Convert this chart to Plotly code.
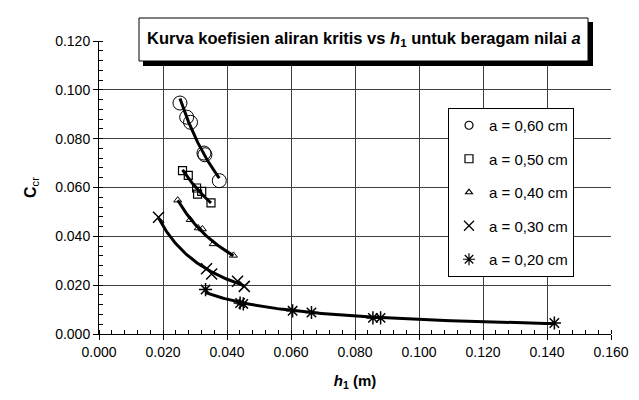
import numpy as np
import plotly.graph_objects as go

# ---- data ----
h_060 = [0.0253, 0.0274, 0.0286, 0.0328, 0.0331, 0.0376]
c_060 = [0.0946, 0.0888, 0.0867, 0.0741, 0.0734, 0.0628]

h_050 = [0.0261, 0.0279, 0.0305, 0.0321, 0.0308, 0.0350]
c_050 = [0.0669, 0.0650, 0.0598, 0.0584, 0.0573, 0.0537]

h_040 = [0.0246, 0.0285, 0.0310, 0.0323, 0.0357, 0.0420]
c_040 = [0.0548, 0.0468, 0.0434, 0.0430, 0.0369, 0.0322]

h_030 = [0.0186, 0.0336, 0.0352, 0.0433, 0.0454]
c_030 = [0.0478, 0.0267, 0.0246, 0.0216, 0.0195]

h_020 = [0.0333, 0.0441, 0.0451, 0.0605, 0.0664, 0.0856, 0.0880, 0.1423]
c_020 = [0.0182, 0.0127, 0.0123, 0.0095, 0.0088, 0.0066, 0.0066, 0.0045]

labels = ["a = 0,60 cm", "a = 0,50 cm", "a = 0,40 cm", "a = 0,30 cm", "a = 0,20 cm"]
x_ticks = [0.000, 0.020, 0.040, 0.060, 0.080, 0.100, 0.120, 0.140, 0.160]
y_ticks = [0.000, 0.020, 0.040, 0.060, 0.080, 0.100, 0.120]

# (x, y, label, symbol, plot size, legend size, line width)
series = [
    (h_060, c_060, labels[0], "circle-open", 14, 8, 1.0),
    (h_050, c_050, labels[1], "square-open", 8, 8, 1.2),
    (h_040, c_040, labels[2], "triangle-up-open", 7, 6, 1.0),
    (h_030, c_030, labels[3], "x-thin-open", 11, 10, 1.5),
    (h_020, c_020, labels[4], "asterisk-open", 11, 10, 1.5),
]

FONT = "Liberation Sans, Arial, sans-serif"
fig = go.Figure()

# power-law trendlines (Excel style) fitted to each series
for hs, cs, name, sym, s, ls, lw in series:
    h = np.array(hs)
    c = np.array(cs)
    b, a = np.polyfit(np.log(h), np.log(c), 1)
    hx = np.geomspace(h.min(), h.max(), 80)
    fig.add_trace(go.Scatter(x=hx, y=np.exp(a) * hx ** b, mode="lines",
                             line=dict(color="black", width=3),
                             showlegend=False, hoverinfo="skip"))

for i, (hs, cs, name, sym, s, ls, lw) in enumerate(series):
    fig.add_trace(go.Scatter(x=hs, y=cs, mode="markers", name=name, showlegend=False,
                             marker=dict(color="black", symbol=sym, size=s,
                                         line=dict(width=lw, color="black"))))
    # legend entry with the small Excel-style legend marker
    fig.add_trace(go.Scatter(x=[None], y=[None], mode="markers", name=name,
                             legendgroup=f"g{i}",
                             marker=dict(color="black", symbol=sym, size=ls,
                                         line=dict(width=1.2, color="black"))))

L, R, T, B = 91, 36, 33, 74
W, H = 639, 400
pw, ph = W - L - R, H - T - B

def px(x):
    return (x - L) / pw

def py(y):
    return (H - B - y) / ph

# title box with shadow
fig.add_shape(type="rect", xref="paper", yref="paper",
              x0=px(135), x1=px(585), y0=py(58), y1=py(14),
              fillcolor="black", line=dict(width=0), layer="above")
fig.add_shape(type="rect", xref="paper", yref="paper",
              x0=px(131), x1=px(580), y0=py(53), y1=py(10),
              fillcolor="white", line=dict(width=1, color="black"), layer="above")
fig.add_annotation(xref="paper", yref="paper", x=px(356), y=py(31),
                   text="<b>Kurva koefisien aliran kritis vs <i>h</i><sub>1</sub> untuk beragam nilai <i>a</i></b>",
                   showarrow=False, font=dict(family=FONT, size=16.5, color="black"),
                   xanchor="center", yanchor="middle")

fig.update_layout(
    width=W, height=H,
    margin=dict(l=L, r=R, t=T, b=B),
    paper_bgcolor="white", plot_bgcolor="white",
    font=dict(family=FONT, color="black"),
    showlegend=True,
    legend=dict(x=px(440), y=py(100), xanchor="left", yanchor="top",
                bgcolor="white", bordercolor="black", borderwidth=1,
                font=dict(family=FONT, size=15, color="black"),
                traceorder="grouped", tracegroupgap=11, itemwidth=30),
    xaxis=dict(range=[0, 0.16], tickvals=x_ticks, ticktext=[f"{v:.3f}" for v in x_ticks],
               showgrid=True, gridcolor="#404040", gridwidth=1,
               showline=True, linecolor="black", linewidth=1,
               ticks="outside", ticklen=5, tickcolor="black",
               minor=dict(dtick=0.004, ticks="inside", ticklen=4, tickcolor="black", showgrid=False),
               tickfont=dict(family=FONT, size=14),
               title=dict(text="<b><i>h</i><sub>1</sub> (m)</b>", font=dict(family=FONT, size=15), standoff=16),
               zeroline=False, fixedrange=True),
    yaxis=dict(range=[0, 0.12], tickvals=y_ticks, ticktext=[f"{v:.3f}" for v in y_ticks],
               showgrid=True, gridcolor="#404040", gridwidth=1,
               showline=True, linecolor="black", linewidth=1,
               ticks="outside", ticklen=5, tickcolor="black",
               minor=dict(dtick=0.004, ticks="inside", ticklen=4, tickcolor="black", showgrid=False),
               tickfont=dict(family=FONT, size=14),
               title=dict(text="<b>C</b><sub>cr</sub>", font=dict(family=FONT, size=16), standoff=14),
               zeroline=False, fixedrange=True),
)

fig.write_html("out.html")
